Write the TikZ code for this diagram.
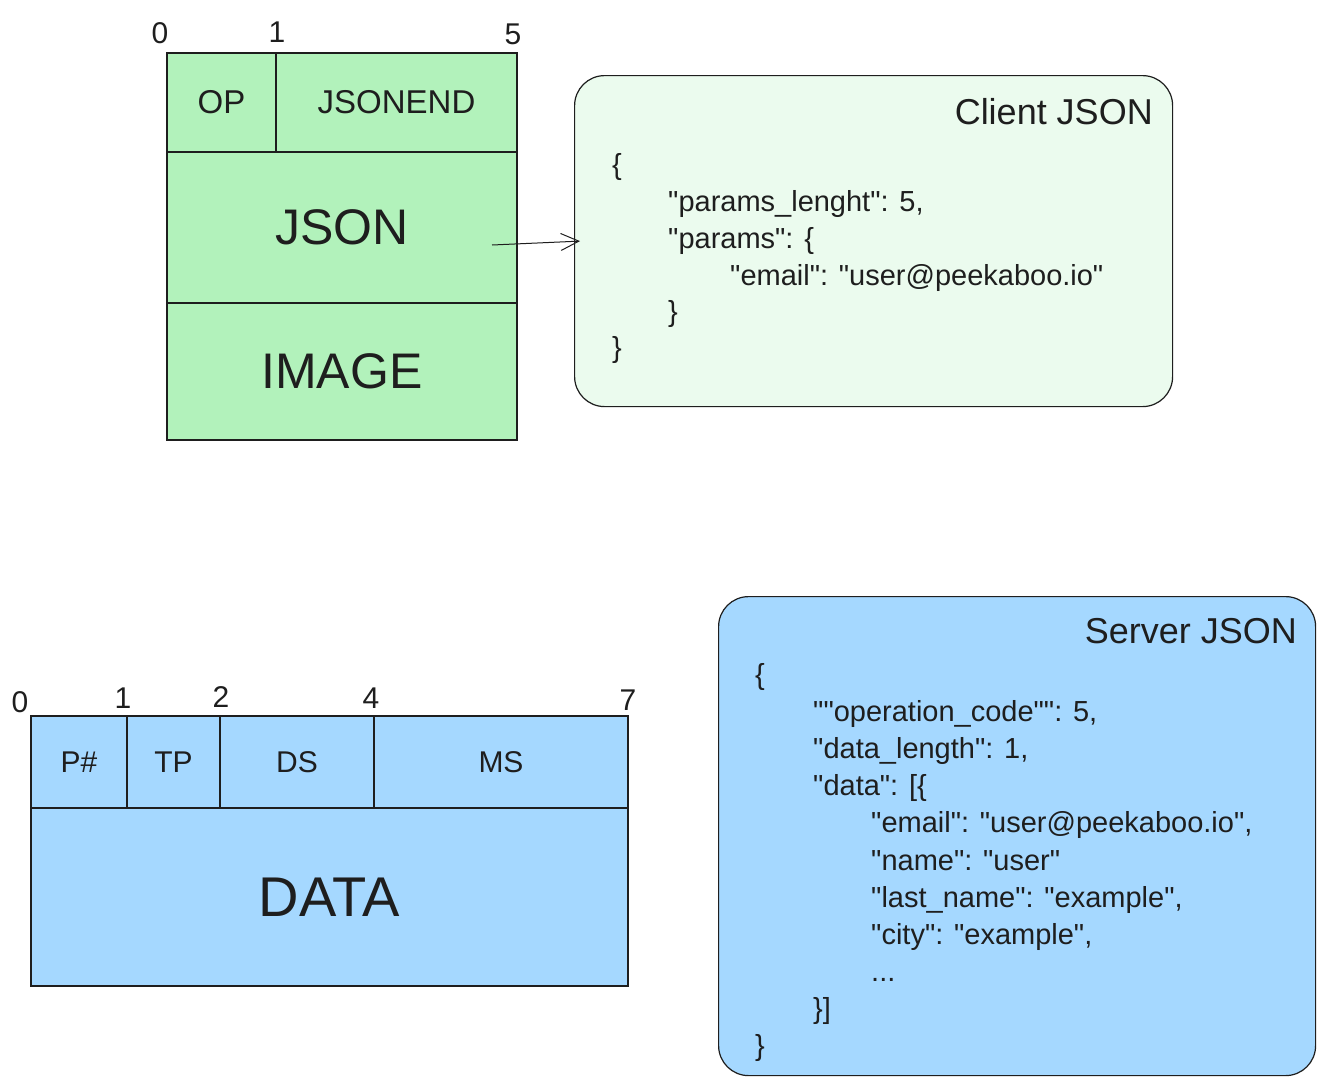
\documentclass[tikz,border=0pt]{standalone}
\usepackage{fontspec}
\setmainfont{Liberation Sans}[Ligatures=TeXOff]
\usetikzlibrary{arrows.meta}
\definecolor{ink}{HTML}{1E1E1E}
\definecolor{grn}{HTML}{B2F2BB}
\definecolor{lgrn}{HTML}{EBFBEE}
\definecolor{blu}{HTML}{A5D8FF}
\begin{document}
\begin{tikzpicture}[x=1pt,y=-1pt,
  cell/.style={draw=ink, line width=1.3pt, inner sep=0pt, outer sep=0pt, anchor=north west, text=ink},
  gcell/.style={cell, fill=grn},
  bcell/.style={cell, fill=blu},
  jbox/.style={draw=ink, line width=1.2pt, rounded corners=30pt, anchor=north west, inner sep=0pt},
  num/.style={text=ink, font=\fontsize{30}{30}\selectfont, inner sep=0pt},
  code/.style={anchor=base west, text=ink, font=\fontsize{29}{29}\selectfont, inner sep=0pt},
  ttl/.style={anchor=base east, text=ink, font=\fontsize{36}{36}\selectfont, inner sep=0pt},
  midf/.style={font=\fontsize{33}{33}\selectfont},
  smf/.style={font=\fontsize{30}{30}\selectfont},
  bigf/.style={font=\fontsize{50}{50}\selectfont},
  arr/.style={draw=ink, line width=1pt, -{Straight Barb[length=18pt,width=17pt]}}
]
\fill[white] (0,0) rectangle (1325,1085);
\useasboundingbox (0,0) rectangle (1325,1085);

% ---- client packet ----
\node[gcell, midf, minimum width=109pt, minimum height=99pt] (op) at (167,53) {OP};
\node[gcell, midf, minimum width=241pt, minimum height=99pt] (jsonend) at (276,53) {JSONEND};
\node[gcell, bigf, minimum width=350pt, minimum height=151pt] (json) at (167,152) {JSON};
\node[gcell, bigf, minimum width=350pt, minimum height=137pt] (image) at (167,303) {IMAGE};
\node[num] (g0) at (160,33) {0};
\node[num] (g1) at (277,32) {1};
\node[num] (g5) at (513,34) {5};

% ---- client JSON box ----
\node[jbox, fill=lgrn, minimum width=598pt, minimum height=331pt] (client) at (574,75) {};
\node[ttl] (ctitle) at (1153,124) {Client JSON};
\node[code] (c1) at (612,174) {\{};
\node[code] (c2) at (668,211) {"params\_lenght": 5,};
\node[code] (c3) at (668,248) {"params": \{};
\node[code] (c4) at (730,285) {"email": "user@peekaboo.io"};
\node[code] (c5) at (668,321) {\}};
\node[code] (c6) at (612,357) {\}};

\coordinate (arrS) at (492,245);
\draw[arr] (arrS) -- ([xshift=6pt]client.west);

% ---- server packet ----
\node[bcell, smf, minimum width=96pt, minimum height=92pt] (pn) at (31,716) {P\#};
\node[bcell, smf, minimum width=93pt, minimum height=92pt] (tp) at (127,716) {TP};
\node[bcell, smf, minimum width=154pt, minimum height=92pt] (ds) at (220,716) {DS};
\node[bcell, smf, minimum width=254pt, minimum height=92pt] (ms) at (374,716) {MS};
\node[bcell, font=\fontsize{56}{56}\selectfont, minimum width=597pt, minimum height=178pt] (data) at (31,808) {DATA};
\node[num] (b0) at (20,702) {0};
\node[num] (b1) at (123,698) {1};
\node[num] (b2) at (221,697) {2};
\node[num] (b4) at (371,698) {4};
\node[num] (b7) at (628,700) {7};

% ---- server JSON box ----
\node[jbox, fill=blu, minimum width=597pt, minimum height=479pt] (server) at (718,596) {};
\node[ttl] (stitle) at (1297,643) {Server JSON};
\node[code] (s1) at (755,684) {\{};
\node[code] (s2) at (813,721) {""operation\_code"": 5,};
\node[code] (s3) at (813,758) {"data\_length": 1,};
\node[code] (s4) at (813,795) {"data": [\{};
\node[code] (s5) at (871,832) {"email": "user@peekaboo.io",};
\node[code] (s6) at (871,870) {"name": "user"};
\node[code] (s7) at (871,907) {"last\_name": "example",};
\node[code] (s8) at (871,944) {"city": "example",};
\node[code] (s9) at (871,981) {...};
\node[code] (s10) at (813,1018) {\}]};
\node[code] (s11) at (755,1055) {\}};
\end{tikzpicture}
\end{document}
